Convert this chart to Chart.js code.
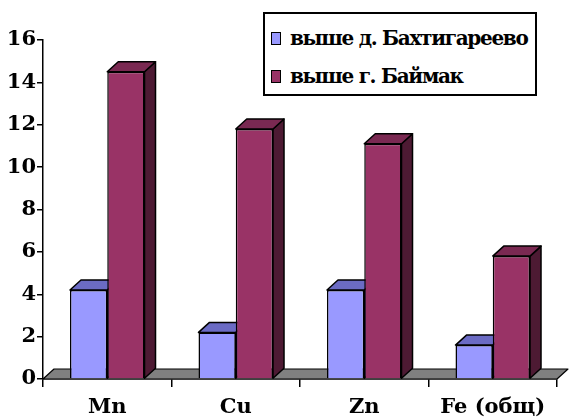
<!DOCTYPE html>
<html>
<head>
<meta charset="utf-8">
<script src="https://cdn.jsdelivr.net/npm/chart.js@4/dist/chart.umd.min.js"></script>
<style>
  html, body { margin: 0; padding: 0; background: #fff; }
  #wrap { position: relative; width: 569px; height: 420px; }
  #chart { position: absolute; left: 0; top: 0; }
  #legend {
    position: absolute; left: 263px; top: 12px; width: 270px; height: 80px;
    border: 2px solid #000; background: #fff;
    font-family: "DejaVu Serif", serif; font-weight: bold;
    font-size: 20px; color: #000;
  }
  .row { position: absolute; left: 6px; display: flex; align-items: center; white-space: nowrap; letter-spacing: -1.3px; }
  .box { width: 8px; height: 11px; border: 1.5px solid #000; margin-right: 9px; }
</style>
</head>
<body>
<div id="wrap">
  <canvas id="chart" width="569" height="420"></canvas>
  <div id="legend"></div>
</div>
<script>
// Metals and measured concentrations at two river sites
const categories = ['Mn', 'Cu', 'Zn', 'Fe (общ)'];
const seriesNames = ['выше д. Бахтигареево', 'выше г. Баймак'];
const upstreamBakhtigareevo = [4.2, 2.2, 4.2, 1.6];
const upstreamBaymak = [14.5, 11.8, 11.1, 5.8];
const yTicks = [0, 2, 4, 6, 8, 10, 12, 14, 16];

// Face colours: front, top, side
const palette = [
  { front: '#9999ff', top: '#6b6bc4', side: '#4d4d99' },
  { front: '#993366', top: '#7a2952', side: '#4d1a33' }
];
const DX = 11, DY = 10;

// Grey floor slab plus the top and side faces of every bar, painted
// before the front faces so that each front covers what lies behind it
const depth3d = {
  id: 'depth3d',
  beforeDatasetsDraw(chart) {
    const ctx = chart.ctx;
    const xs = chart.scales.x, ys = chart.scales.y;
    const base = ys.getPixelForValue(0);
    ctx.save();
    ctx.lineJoin = 'round';
    ctx.beginPath();
    ctx.moveTo(xs.left, base);
    ctx.lineTo(xs.left + DX, base - DY);
    ctx.lineTo(xs.right + DX, base - DY);
    ctx.lineTo(xs.right, base);
    ctx.closePath();
    ctx.fillStyle = '#808080';
    ctx.fill();
    ctx.lineWidth = 1.2;
    ctx.strokeStyle = '#000';
    ctx.stroke();

    ctx.lineWidth = 1.5;
    chart.data.datasets.forEach((ds, i) => {
      const col = palette[i];
      chart.getDatasetMeta(i).data.forEach(bar => {
        const p = bar.getProps(['x', 'y', 'base', 'width'], true);
        const l = p.x - p.width / 2, r = p.x + p.width / 2;
        ctx.beginPath();
        ctx.moveTo(r, p.y);
        ctx.lineTo(r + DX, p.y - DY);
        ctx.lineTo(r + DX, p.base - DY);
        ctx.lineTo(r, p.base);
        ctx.closePath();
        ctx.fillStyle = col.side;
        ctx.fill();
        ctx.stroke();
        ctx.beginPath();
        ctx.moveTo(l, p.y);
        ctx.lineTo(l + DX, p.y - DY);
        ctx.lineTo(r + DX, p.y - DY);
        ctx.lineTo(r, p.y);
        ctx.closePath();
        ctx.fillStyle = col.top;
        ctx.fill();
        ctx.stroke();
      });
    });
    ctx.restore();
  }
};

const family = '"DejaVu Serif", serif';

new Chart(document.getElementById('chart'), {
  type: 'bar',
  data: {
    labels: categories,
    datasets: [
      { label: seriesNames[0], data: upstreamBakhtigareevo,
        backgroundColor: palette[0].front, borderColor: '#000', borderWidth: 1.5 },
      { label: seriesNames[1], data: upstreamBaymak,
        backgroundColor: palette[1].front, borderColor: '#000', borderWidth: 1.5 }
    ]
  },
  options: {
    responsive: false,
    animation: false,
    layout: { padding: { top: 40, right: 12, left: 0, bottom: 0 } },
    datasets: { bar: { categoryPercentage: 0.58, barPercentage: 1.0 } },
    plugins: { legend: { display: false }, tooltip: { enabled: false } },
    scales: {
      x: {
        grid: { drawOnChartArea: false, drawTicks: true, tickLength: 8, color: '#000', lineWidth: 1.5 },
        border: { display: true, color: '#000', width: 1.5 },
        ticks: { color: '#000', font: { family, weight: 'bold', size: 21 }, padding: 8, maxRotation: 0 },
        afterFit(s) { s.height = 41; }
      },
      y: {
        min: 0, max: 16,
        afterBuildTicks(s) { s.ticks = yTicks.map(v => ({ value: v })); },
        grid: { drawOnChartArea: false, drawTicks: true, tickLength: 6, color: '#000', lineWidth: 1.5 },
        border: { display: true, color: '#000', width: 1.5 },
        ticks: { color: '#000', font: { family, weight: 'bold', size: 21 }, padding: 1 },
        afterFit(s) { s.width = 43; }
      }
    }
  },
  plugins: [depth3d]
});

// Legend entries built from the series names and colours
const legend = document.getElementById('legend');
seriesNames.forEach((name, i) => {
  const row = document.createElement('div');
  row.className = 'row';
  row.style.top = (i === 0 ? 12 : 50) + 'px';
  const box = document.createElement('span');
  box.className = 'box';
  box.style.background = palette[i].front;
  const txt = document.createElement('span');
  txt.textContent = name;
  row.appendChild(box);
  row.appendChild(txt);
  legend.appendChild(row);
});
</script>
</body>
</html>
